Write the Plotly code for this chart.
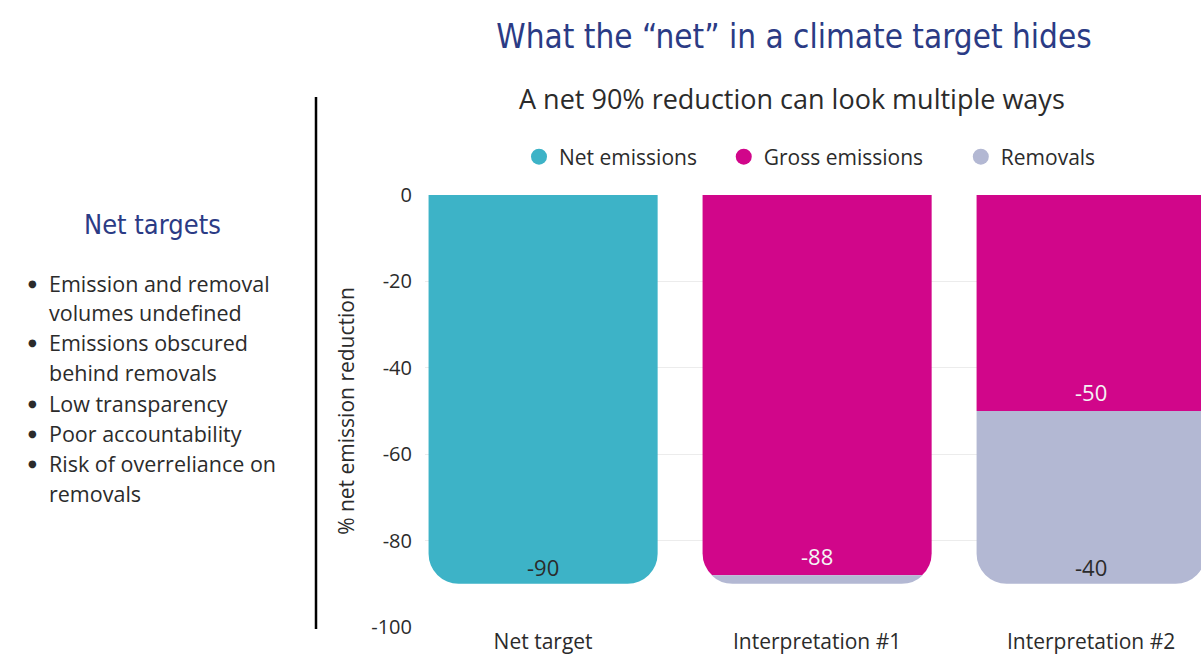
import plotly.graph_objects as go

categories = ["Net target", "Interpretation #1", "Interpretation #2"]
net_emissions = [-90, None, None]
gross_emissions = [None, -88, -50]
removals = [None, -2, -40]
show_removal_label = [False, False, True]
legend_names = ["Net emissions", "Gross emissions", "Removals"]
bullets = [
    ["Emission and removal", "volumes undefined"],
    ["Emissions obscured", "behind removals"],
    ["Low transparency"],
    ["Poor accountability"],
    ["Risk of overreliance on", "removals"],
]
y_ticks = [0, -20, -40, -60, -80, -100]

C_NET = "#3DB3C7"
C_GROSS = "#D1068A"
C_REM = "#B3B8D3"
NAVY = "#2B3B85"
TXT = "#2b2b2b"
BODY = "Open Sans"
COND = "DejaVu Sans Condensed"

W, H = 1201, 656
L, R, T, B = 425, 0, 195, 29
pw, ph = W - L - R, H - T - B


def px_x(px):
    return (px - L) / pw


def px_y(py):
    return 1 - (py - T) / ph


fig = go.Figure()
fig.add_bar(x=categories, y=net_emissions, marker_color=C_NET, name=legend_names[0], showlegend=False)
fig.add_bar(x=categories, y=gross_emissions, marker_color=C_GROSS, name=legend_names[1], showlegend=False)
fig.add_bar(x=categories, y=removals, marker_color=C_REM, name=legend_names[2], showlegend=False)
fig.update_traces(marker_line_width=0, hoverinfo="skip", selector=dict(type="bar"))

pads = ["\u00a0" * 4, "\u00a0" * 6, ""]
for name, col, p in zip(legend_names, [C_NET, C_GROSS, C_REM], pads):
    fig.add_scatter(x=[None], y=[None], mode="markers", name=name + p,
                    marker=dict(color=col, size=22, symbol="circle"))

# value labels at the end of each segment
for c, n, g, r, show in zip(categories, net_emissions, gross_emissions, removals, show_removal_label):
    if n is not None:
        fig.add_annotation(x=c, y=n, text=str(n), yanchor="bottom", yshift=0, showarrow=False,
                           font=dict(family=BODY, size=22, color=TXT))
    if g is not None:
        fig.add_annotation(x=c, y=g, text=str(g), yanchor="bottom", yshift=2, showarrow=False,
                           font=dict(family=BODY, size=22, color="#f4f4f4"))
    if r is not None and show:
        fig.add_annotation(x=c, y=g + r, text=str(r), yanchor="bottom", yshift=0, showarrow=False,
                           font=dict(family=BODY, size=22, color=TXT))

fig.update_layout(
    width=W, height=H,
    margin=dict(l=L, r=R, t=T, b=B, pad=0),
    paper_bgcolor="white", plot_bgcolor="white",
    barmode="relative", bargap=0.164, barcornerradius=30,
    font=dict(family=BODY, color=TXT, size=20),
    showlegend=True,
    legend=dict(orientation="h", x=px_x(810), xanchor="center", y=px_y(157), yanchor="middle",
                font=dict(family=BODY, size=21, color=TXT), itemsizing="trace",
                traceorder="normal"),
    title=dict(text="What the \u201cnet\u201d in a climate target hides",
               font=dict(family=COND, size=33, color=NAVY),
               x=794 / W, xanchor="center", xref="container",
               y=1 - 36 / H, yanchor="middle", yref="container"),
    xaxis=dict(range=[-0.431, 2.401], showgrid=False, zeroline=False, showline=False,
               automargin=False,
               ticks="", ticklabelstandoff=0, tickfont=dict(size=21, family=BODY, color=TXT)),
    yaxis=dict(range=[-100, 0], tickvals=y_ticks, ticktext=[str(v) for v in y_ticks],
               showgrid=True, gridcolor="#ececec", gridwidth=1, zeroline=False,
               showline=False, ticks="", ticklabelstandoff=12, automargin=False,
               tickfont=dict(size=20, family=BODY, color=TXT),
               title=dict(text="% net emission reduction", standoff=10,
                          font=dict(size=21, family=BODY, color=TXT))),
)

# subtitle
fig.add_annotation(text="A net 90% reduction can look multiple ways", xref="paper", yref="paper",
                   x=px_x(792), y=px_y(99), xanchor="center", yanchor="middle", showarrow=False,
                   font=dict(family=BODY, size=27, color=TXT))

# left panel heading
fig.add_annotation(text="Net targets", xref="paper", yref="paper",
                   x=px_x(152), y=px_y(224), xanchor="center", yanchor="middle", showarrow=False,
                   font=dict(family=COND, size=27, color=NAVY))

line_y = [283, 312, 342, 372, 403, 433, 463, 493]
i = 0
for item in bullets:
    fig.add_annotation(text="\u25CF", xref="paper", yref="paper", x=px_x(32), y=px_y(line_y[i]),
                       xanchor="center", yanchor="middle", showarrow=False,
                       font=dict(family="DejaVu Sans", size=10, color=TXT))
    for ln in item:
        fig.add_annotation(text=ln, xref="paper", yref="paper", x=px_x(47), y=px_y(line_y[i]),
                           xanchor="left", yanchor="middle", showarrow=False,
                           font=dict(family=BODY, size=21.5, color=TXT))
        i += 1

# divider
fig.add_shape(type="line", xref="paper", yref="paper", x0=px_x(316), x1=px_x(316),
              y0=px_y(97), y1=px_y(629), line=dict(color="black", width=2.5))

fig.write_html("out.html")
